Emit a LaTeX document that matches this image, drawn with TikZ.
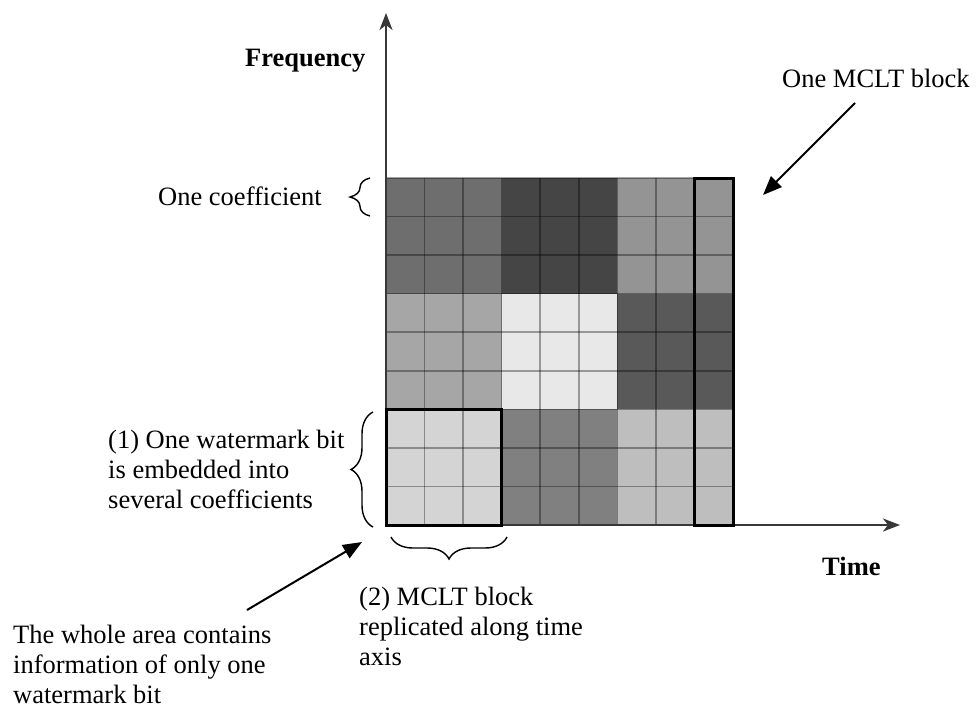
\documentclass[tikz,border=0pt]{standalone}
\usepackage{fontspec}
\setmainfont{Liberation Serif}
\usetikzlibrary{arrows.meta,decorations.pathreplacing}

% Cell shades of the 3x3 blocks
\definecolor{shA}{gray}{0.43}
\definecolor{shB}{gray}{0.27}
\definecolor{shC}{gray}{0.58}
\definecolor{shD}{gray}{0.65}
\definecolor{shE}{gray}{0.91}
\definecolor{shF}{gray}{0.35}
\definecolor{shG}{gray}{0.83}
\definecolor{shH}{gray}{0.50}
\definecolor{shI}{gray}{0.745}
\definecolor{axisgray}{gray}{0.22}

\tikzset{
  lbl/.style={inner sep=0pt, anchor=base west, align=left,
    font=\fontsize{26.5}{30}\selectfont},
  axisline/.style={draw=axisgray, line width=2.5pt,
    -{Stealth[length=17pt,width=13pt,inset=5pt]}},
  gridline/.style={draw=black, draw opacity=0.35, line width=1.5pt},
  blockframe/.style={draw=black, line width=3pt},
  curly/.style={draw=black, line width=1.4pt,
    decorate, decoration={brace, amplitude=#1}},
  pointer/.style={draw=black, line width=2pt,
    -{Triangle[length=19pt,width=15pt]}},
}

\begin{document}
\begin{tikzpicture}[x=1pt, y=-1pt]
\useasboundingbox (0,0) rectangle (976,706);

% grid geometry: 9 x 9 cells of 38.556 px
\def\gx{386}
\def\gy{178}
\def\cw{38.5556}

% shaded blocks, row by row from the top
\foreach \clr [count=\k from 0] in {shA,shB,shC,shD,shE,shF,shG,shH,shI}{
  \pgfmathtruncatemacro{\bc}{mod(\k,3)}
  \pgfmathtruncatemacro{\br}{div(\k,3)}
  \fill[\clr] ({\gx+3*\bc*\cw},{\gy+3*\br*\cw}) rectangle ++({3*\cw},{3*\cw});
}

% cell borders
\foreach \i in {0,...,9}{
  \draw[gridline] ({\gx+\i*\cw},\gy) -- ++(0,{9*\cw});
  \draw[gridline] (\gx,{\gy+\i*\cw}) -- ++({9*\cw},0);
}

% axes
\coordinate (O) at (\gx,525);
\coordinate (ytip) at (\gx,13);
\coordinate (xtip) at (900,525);
\draw[axisline] (O) -- (ytip);
\draw[axisline] (O) -- (xtip);

% highlighted areas: one watermark-bit block and one MCLT column
\draw[blockframe] (\gx,{\gy+6*\cw}) rectangle ({\gx+3*\cw},{\gy+9*\cw});
\draw[blockframe] ({\gx+8*\cw},\gy) rectangle ({\gx+9*\cw},{\gy+9*\cw});

% axis titles
\node[lbl] (freq) at (245,67) {\textbf{Frequency}};
\node[lbl] (time) at (822,575) {\textbf{Time}};

% annotations (multi-line labels are placed by the baseline of their last line)
\node[lbl] (mclt) at (782,88) {One MCLT block};
\node[lbl] (coef) at (158,205) {One coefficient};
\node[lbl] (onebit) at (108,508) {(1) One watermark bit\\is embedded into\\several coefficients};
\node[lbl] (repl) at (359,665) {(2) MCLT block\\replicated along time\\axis};
\node[lbl] (whole) at (13,703) {The whole area contains\\information of only one\\watermark bit};

% braces
\coordinate (b1a) at (370,216);
\coordinate (b1b) at (370,178);
\draw[curly=20pt] (b1a) -- (b1b);
\coordinate (b2a) at (373,527);
\coordinate (b2b) at (373,412);
\draw[curly=22pt] (b2a) -- (b2b);
\coordinate (b3a) at (507,537);
\coordinate (b3b) at (391,537);
\draw[curly=22pt] (b3a) -- (b3b);

% pointers
\coordinate (p1s) at (855,103);
\coordinate (p1e) at (763,195);
\draw[pointer] (p1s) -- (p1e);
\coordinate (p2s) at (247,610);
\coordinate (p2e) at (362,542);
\draw[pointer] (p2s) -- (p2e);
\end{tikzpicture}
\end{document}
